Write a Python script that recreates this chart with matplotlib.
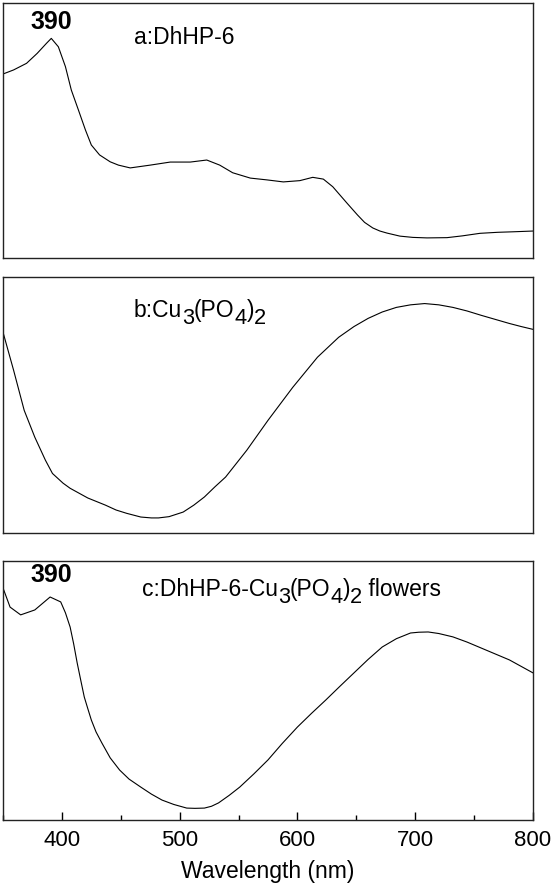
import matplotlib
matplotlib.use("Agg")
import matplotlib.pyplot as plt
from matplotlib import transforms
from matplotlib.ticker import MultipleLocator

plt.rcParams['font.family'] = ['Liberation Sans', 'DejaVu Sans']

# a: DhHP-6 (normalised absorbance)
wl_a = [350, 359, 370, 379, 387, 391, 397, 403, 408, 414, 420, 425, 432, 441, 448,
        458, 475, 492, 509, 523, 534, 545, 560, 574, 588, 602, 613, 622, 630, 642,
        651, 657, 664, 670, 676, 687, 698, 710, 727, 740, 755, 770, 783, 800]
abs_a = [0.721, 0.737, 0.763, 0.802, 0.842, 0.861, 0.828, 0.750, 0.658, 0.580, 0.501,
         0.442, 0.403, 0.376, 0.363, 0.352, 0.363, 0.375, 0.375, 0.383, 0.363, 0.333,
         0.312, 0.305, 0.297, 0.302, 0.315, 0.308, 0.278, 0.214, 0.167, 0.138, 0.116,
         0.104, 0.096, 0.084, 0.079, 0.077, 0.078, 0.085, 0.095, 0.099, 0.101, 0.104]

# b: Cu3(PO4)2
wl_b = [350, 359, 368, 377, 386, 392, 401, 407, 422, 437, 446, 455, 467, 476, 482,
        491, 503, 512, 521, 530, 539, 557, 575, 596, 617, 635, 648, 660, 672, 684,
        696, 708, 720, 732, 744, 756, 768, 780, 790, 800]
abs_b = [0.786, 0.637, 0.480, 0.375, 0.285, 0.233, 0.195, 0.175, 0.137, 0.109, 0.090,
         0.077, 0.0625, 0.059, 0.059, 0.064, 0.082, 0.109, 0.141, 0.181, 0.219, 0.324,
         0.441, 0.570, 0.688, 0.766, 0.808, 0.840, 0.865, 0.883, 0.893, 0.898, 0.893,
         0.883, 0.869, 0.852, 0.836, 0.820, 0.808, 0.797]

# c: DhHP-6-Cu3(PO4)2 flowers
wl_c = [350, 356, 365, 377, 390, 399, 403, 407, 410, 413, 416, 419, 422, 425, 429,
        434, 441, 449, 457, 467, 476, 485, 495, 506, 513, 521, 527, 533, 542, 551,
        563, 575, 587, 600, 612, 624, 636, 648, 660, 672, 684, 696, 703, 711, 720,
        732, 744, 756, 768, 780, 790, 800]
abs_c = [0.896, 0.822, 0.792, 0.811, 0.861, 0.842, 0.800, 0.745, 0.680, 0.606, 0.540,
         0.475, 0.430, 0.386, 0.340, 0.297, 0.240, 0.193, 0.158, 0.127, 0.100, 0.077,
         0.060, 0.046, 0.045, 0.046, 0.053, 0.066, 0.095, 0.127, 0.178, 0.232, 0.295,
         0.359, 0.412, 0.463, 0.516, 0.568, 0.620, 0.668, 0.700, 0.722, 0.725, 0.726,
         0.720, 0.707, 0.687, 0.664, 0.641, 0.618, 0.593, 0.568]

# label pieces: (text, lowered?)
label_a = [("a:DhHP-6", False)]
label_b = [("b:Cu", False), ("3", True), ("(PO", False), ("4", True), (")", False),
           ("2", True)]
label_c = [("c:DhHP-6-Cu", False), ("3", True), ("(PO", False), ("4", True),
           (")", False), ("2", True), (" flowers", False)]


def chem_text(ax, x, y, pieces, size):
    # draw pieces one after another, subscripts are shifted down
    fig = ax.figure
    fig.canvas.draw()
    renderer = fig.canvas.get_renderer()
    tr = ax.transData
    for s, low in pieces:
        dy = -size * 0.3 if low else 0
        t = ax.text(x, y, s, fontsize=size * (0.95 if low else 1.0),
                    ha='left', va='baseline',
                    transform=transforms.offset_copy(tr, fig=fig, y=dy, units='points'))
        t.draw(renderer)
        ext = t.get_window_extent(renderer)
        tr = transforms.offset_copy(tr, fig=fig, x=ext.width, units='dots')


fig = plt.figure(figsize=(5.55, 8.86), dpi=100)
W, H = 555.0, 886.0
boxes = [(3, 257.5), (277.5, 533), (561, 820)]
axes = []
for top, bot in boxes:
    ax = fig.add_axes([3 / W, 1 - bot / H, 530 / W, (bot - top) / H])
    axes.append(ax)

series = [(wl_a, abs_a), (wl_b, abs_b), (wl_c, abs_c)]
for ax, (x, y) in zip(axes, series):
    ax.plot(x, y, color='black', lw=0.8)
    ax.set_xlim(350, 800)
    ax.set_ylim(0, 1)
    ax.set_yticks([])
    for s in ax.spines.values():
        s.set_color('#222222')
        s.set_linewidth(1.0)

for ax in axes[:2]:
    ax.set_xticks([])

ax = axes[2]
ax.xaxis.set_major_locator(MultipleLocator(100))
ax.xaxis.set_minor_locator(MultipleLocator(50))
ax.tick_params(axis='x', which='major', direction='in', length=6, width=1,
               labelsize=16, pad=7)
ax.tick_params(axis='x', which='minor', direction='in', length=3.5, width=1)
ax.set_xlabel("Wavelength (nm)", fontsize=16.5, labelpad=7)

axes[0].text(391, 0.925, "390", fontsize=18, fontweight='bold', ha='center', va='center')
axes[2].text(391, 0.945, "390", fontsize=18, fontweight='bold', ha='center', va='center')

chem_text(axes[0], 461, 0.84, label_a, 16.5)
chem_text(axes[1], 461, 0.845, label_b, 16.5)
chem_text(axes[2], 468, 0.865, label_c, 16.5)

fig.savefig("out.png", dpi=100)
